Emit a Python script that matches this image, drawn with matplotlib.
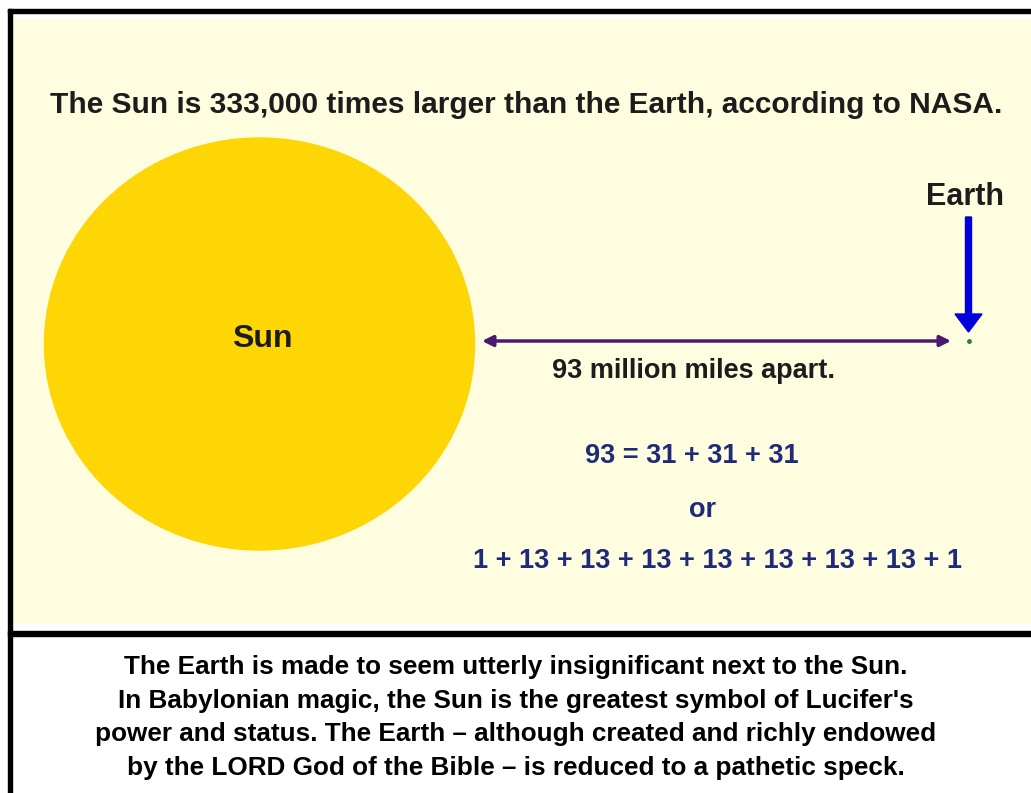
import matplotlib.pyplot as plt
from matplotlib.patches import Ellipse, Rectangle

# texts of the slide
title = "The Sun is 333,000 times larger than the Earth, according to NASA."
sun_label = "Sun"
earth_label = "Earth"
distance_label = "93 million miles apart."
sum_a = "93 = 31 + 31 + 31"
sum_or = "or"
sum_b = "1 + 13 + 13 + 13 + 13 + 13 + 13 + 13 + 1"
caption = ["The Earth is made to seem utterly insignificant next to the Sun.",
           "In Babylonian magic, the Sun is the greatest symbol of Lucifer's",
           "power and status. The Earth \u2013 although created and richly endowed",
           "by the LORD God of the Bible \u2013 is reduced to a pathetic speck."]

W, H = 1031, 793
fig = plt.figure(figsize=(W / 100, H / 100), dpi=100)
ax = fig.add_axes([0, 0, 1, 1])
ax.set_xlim(0, W)
ax.set_ylim(H, 0)
ax.axis('off')

yellow = '#FEFDDF'
dark = '#1c1c1c'
navy = '#1f2a78'
font = ['Liberation Sans', 'DejaVu Sans']

# frame and panels
ax.add_patch(Rectangle((12, 19), W - 12, 604, color=yellow, zorder=0))
ax.add_patch(Rectangle((8, 9), W - 8, 4, color='black', zorder=1))
ax.add_patch(Rectangle((8, 9), 4, H - 9, color='black', zorder=1))
ax.add_patch(Rectangle((8, 631), W - 8, 5, color='black', zorder=1))

# title
ax.text(526, 113, title, ha='center', va='baseline', fontsize=21.5,
        fontweight='bold', color=dark, family=font)

# sun
ax.add_patch(Ellipse((259.5, 344), 430, 412, color='#FFD605', zorder=2))
ax.text(262, 347, sun_label, ha='center', va='baseline', fontsize=23,
        fontweight='bold', color=dark, family=font, zorder=3)

# distance arrow
ax.annotate('', xy=(951, 341), xytext=(482, 341),
            arrowprops=dict(arrowstyle='<|-|>', color='#4a1a6e', lw=2.5,
                            mutation_scale=16, shrinkA=0, shrinkB=0))

# earth and its pointer
ax.arrow(968.5, 217, 0, 115, width=6, head_width=27, head_length=18,
         length_includes_head=True, color='#0000dd', zorder=3)
ax.plot([969], [341], 'o', ms=2.5, color='#2e7d32', zorder=4)
ax.text(965, 205, earth_label, ha='center', va='baseline', fontsize=22,
        fontweight='bold', color=dark, family=font)

ax.text(693, 378, distance_label, ha='center', va='baseline', fontsize=19.5,
        fontweight='bold', color=dark, family=font)
ax.text(692, 463, sum_a, ha='center', va='baseline', fontsize=19.5,
        fontweight='bold', color=navy, family=font)
ax.text(703, 517, sum_or, ha='center', va='baseline', fontsize=19.5,
        fontweight='bold', color=navy, family=font)
ax.text(717.5, 568, sum_b, ha='center', va='baseline', fontsize=19.5,
        fontweight='bold', color=navy, family=font)

# caption under the slide
for i, line in enumerate(caption):
    ax.text(516, 674 + 33.7 * i, line, ha='center', va='baseline',
            fontsize=18.8, fontweight='bold', color='black', family=font)

fig.savefig('out.png', dpi=100, facecolor='white')
